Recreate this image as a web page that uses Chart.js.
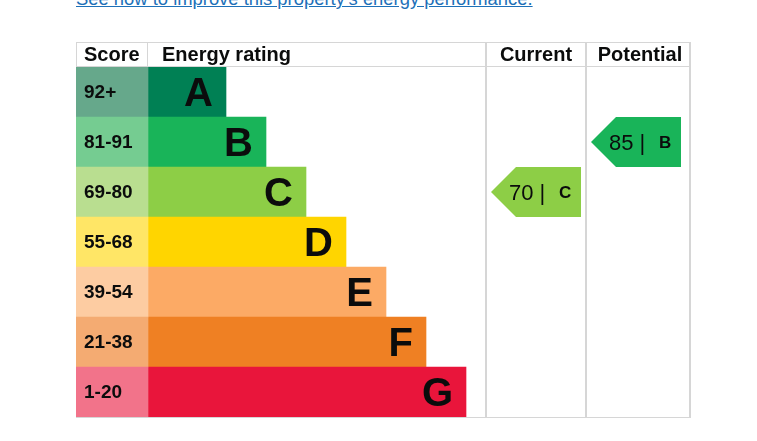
<!DOCTYPE html>
<html>
<head>
<meta charset="utf-8">
<title>Energy rating</title>
<script src="https://cdn.jsdelivr.net/npm/chart.js@4/dist/chart.umd.min.js"></script>
<style>
  html, body { margin: 0; padding: 0; background: #fff; }
  #wrap { position: relative; width: 757px; height: 441px; overflow: hidden; }
  #improve {
    position: absolute; left: 76px; top: -11px;
    font: 18.4px "Liberation Sans", Arial, sans-serif; line-height: 19px;
    color: #1d70b8; text-decoration: underline; white-space: nowrap;
  }
  canvas { position: absolute; left: 0; top: 0; }
</style>
</head>
<body>
<div id="wrap">
  <a id="improve" href="#">See how to improve this property’s energy performance.</a>
  <canvas id="epcChart" width="757" height="441"></canvas>
</div>
<script>
// Bandas de eficiência energética
const bands = ['A', 'B', 'C', 'D', 'E', 'F', 'G'];
const scoreLabels = ['92+', '81-91', '69-80', '55-68', '39-54', '21-38', '1-20'];
const bandMinScores = [92, 81, 69, 55, 39, 21, 1];
const bandColours = ['#008054', '#19b459', '#8dce46', '#ffd500', '#fcaa65', '#ef8023', '#e9153b'];
const scoreColours = ['#66a88b', '#75cc91', '#b9de90', '#ffe666', '#fdcca2', '#f4ab72', '#f2738a'];
const columnHeaders = ['Score', 'Energy rating', 'Current', 'Potential'];
const currentScore = 70;
const potentialScore = 85;

// Layout (unidades do eixo x = pixels da tabela)
const TABLE_W = 614;
const SCORE_W = 72;
const BAR_W = [78, 118, 158, 198, 238, 278, 318];
const CURRENT_X = 410;
const POTENTIAL_X = 510;
const HEADER_H = 25;
const LINE = '#d6d6d6';
const INK = '#0b0c0c';
const FONT = '"Liberation Sans", Arial, sans-serif';

function bandFor(score) {
  return bandMinScores.findIndex(min => score >= min);
}

const epcPlugin = {
  id: 'epc',
  afterDatasetsDraw(chart) {
    const { ctx, chartArea, scales } = chart;
    const x = scales.x, y = scales.y;
    const rowH = (chartArea.bottom - chartArea.top) / bands.length;
    const left = x.getPixelForValue(0);
    const right = x.getPixelForValue(TABLE_W);
    const top = chartArea.top - HEADER_H;
    const curX = x.getPixelForValue(CURRENT_X);
    const potX = x.getPixelForValue(POTENTIAL_X);
    const scoreX = x.getPixelForValue(SCORE_W);

    ctx.save();
    // linhas da tabela
    ctx.strokeStyle = LINE;
    ctx.lineWidth = 1;
    ctx.beginPath();
    ctx.moveTo(left, top + 0.5); ctx.lineTo(right, top + 0.5);
    ctx.moveTo(left, chartArea.top - 0.5); ctx.lineTo(right, chartArea.top - 0.5);
    ctx.moveTo(left, chartArea.bottom + 0.5); ctx.lineTo(right, chartArea.bottom + 0.5);
    ctx.moveTo(left + 0.5, top); ctx.lineTo(left + 0.5, chartArea.top);
    ctx.moveTo(scoreX - 0.5, top); ctx.lineTo(scoreX - 0.5, chartArea.top);
    ctx.stroke();
    ctx.lineWidth = 2;
    ctx.beginPath();
    [curX, potX, right].forEach(px => {
      ctx.moveTo(px, top); ctx.lineTo(px, chartArea.bottom + 1);
    });
    ctx.stroke();

    // cabeçalho
    ctx.fillStyle = INK;
    ctx.font = 'bold 20px ' + FONT;
    ctx.textBaseline = 'middle';
    const headY = top + HEADER_H / 2 + 1;
    ctx.textAlign = 'left';
    ctx.fillText(columnHeaders[0], left + 8, headY);
    ctx.fillText(columnHeaders[1], scoreX + 14, headY);
    ctx.textAlign = 'center';
    ctx.fillText(columnHeaders[2], (curX + potX) / 2, headY);
    ctx.fillText(columnHeaders[3], (potX + right) / 2 + 2, headY);

    // pontuações e letras
    ctx.textBaseline = 'alphabetic';
    bands.forEach((band, i) => {
      const cy = y.getPixelForValue(i);
      ctx.textAlign = 'left';
      ctx.font = 'bold 19px ' + FONT;
      ctx.fillText(scoreLabels[i], left + 8, cy + 6);
      ctx.textAlign = 'right';
      ctx.font = 'bold 40px ' + FONT;
      ctx.fillText(band, x.getPixelForValue(SCORE_W + BAR_W[i]) - 13, cy + 14);
    });

    // setas atual / potencial
    const drawArrow = (colX, score) => {
      const i = bandFor(score);
      const cy = y.getPixelForValue(i);
      const t = cy - rowH / 2, b = cy + rowH / 2;
      const x0 = colX + 5;
      ctx.fillStyle = bandColours[i];
      ctx.beginPath();
      ctx.moveTo(x0, cy);
      ctx.lineTo(x0 + 25, t);
      ctx.lineTo(x0 + 90, t);
      ctx.lineTo(x0 + 90, b);
      ctx.lineTo(x0 + 25, b);
      ctx.closePath();
      ctx.fill();
      ctx.fillStyle = INK;
      ctx.textAlign = 'left';
      ctx.font = '22px ' + FONT;
      ctx.fillText(score + ' |', x0 + 18, cy + 8);
      ctx.font = 'bold 17px ' + FONT;
      ctx.fillText(bands[i], x0 + 68, cy + 6);
    };
    drawArrow(curX, currentScore);
    drawArrow(potX, potentialScore);
    ctx.restore();
  }
};

new Chart(document.getElementById('epcChart'), {
  type: 'bar',
  data: {
    labels: bands,
    datasets: [
      {
        label: 'Score',
        data: bands.map(() => [0, SCORE_W]),
        backgroundColor: scoreColours,
        grouped: false
      },
      {
        label: 'Energy rating',
        data: BAR_W.map(w => [SCORE_W, SCORE_W + w]),
        backgroundColor: bandColours,
        grouped: false
      }
    ]
  },
  options: {
    indexAxis: 'y',
    responsive: false,
    animation: false,
    barPercentage: 1,
    categoryPercentage: 1,
    layout: { padding: { left: 76, right: 67, top: 67, bottom: 24 } },
    plugins: { legend: { display: false }, tooltip: { enabled: false } },
    scales: {
      x: { display: false, min: 0, max: TABLE_W },
      y: { display: false }
    }
  },
  plugins: [epcPlugin]
});
</script>
</body>
</html>
